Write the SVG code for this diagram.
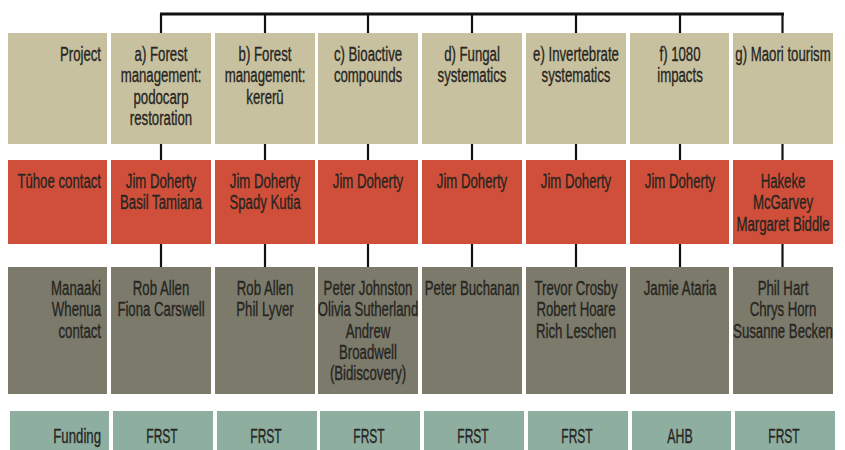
<svg xmlns="http://www.w3.org/2000/svg" width="845" height="450" viewBox="0 0 845 450">
<style>
.proj{fill:#c8c19f}
.tuhoe{fill:#d04f3b}
.mw{fill:#7b7a6b}
.fund{fill:#8eae9f}
text{font-family:"Liberation Sans",Arial,sans-serif;font-size:20px;fill:#26251f;stroke:#26251f;stroke-width:0.35}
.c{text-anchor:middle}
.r{text-anchor:end}
.conn line{stroke:#111;stroke-width:2.2}
</style>
<rect width="845" height="450" fill="#ffffff"/>
<g class="conn" id="connectors">
<line x1="160" y1="14" x2="784" y2="14" style="stroke-width:3"/>
<line x1="161" y1="14" x2="161" y2="33"/>
<line x1="265" y1="14" x2="265" y2="33"/>
<line x1="368" y1="14" x2="368" y2="33"/>
<line x1="472" y1="14" x2="472" y2="33"/>
<line x1="576" y1="14" x2="576" y2="33"/>
<line x1="680" y1="14" x2="680" y2="33"/>
<line x1="782.5" y1="14" x2="782.5" y2="33"/>
<line x1="161" y1="144" x2="161" y2="160"/>
<line x1="265" y1="144" x2="265" y2="160"/>
<line x1="368" y1="144" x2="368" y2="160"/>
<line x1="472" y1="144" x2="472" y2="160"/>
<line x1="576" y1="144" x2="576" y2="160"/>
<line x1="680" y1="144" x2="680" y2="160"/>
<line x1="782.5" y1="144" x2="782.5" y2="160"/>
<line x1="161" y1="244" x2="161" y2="267"/>
<line x1="265" y1="244" x2="265" y2="267"/>
<line x1="368" y1="244" x2="368" y2="267"/>
<line x1="472" y1="244" x2="472" y2="267"/>
<line x1="576" y1="244" x2="576" y2="267"/>
<line x1="680" y1="244" x2="680" y2="267"/>
<line x1="782.5" y1="244" x2="782.5" y2="267"/>
</g>
<!-- Project row -->
<g id="project-label"><rect class="proj" x="8" y="33" width="99" height="111"/><text class="r" transform="translate(101,61) scale(0.66,1)">Project</text></g>
<g id="project-a"><rect class="proj" x="111" y="33" width="100" height="111"/><text class="c" transform="translate(161,61) scale(0.66,1)"><tspan x="0">a) Forest</tspan><tspan x="0" dy="21.3">management:</tspan><tspan x="0" dy="21.3">podocarp</tspan><tspan x="0" dy="21.3">restoration</tspan></text></g>
<g id="project-b"><rect class="proj" x="215" y="33" width="100" height="111"/><text class="c" transform="translate(265,61) scale(0.66,1)"><tspan x="0">b) Forest</tspan><tspan x="0" dy="21.3">management:</tspan><tspan x="0" dy="21.3">kererū</tspan></text></g>
<g id="project-c"><rect class="proj" x="318" y="33" width="100" height="111"/><text class="c" transform="translate(368,61) scale(0.66,1)"><tspan x="0">c) Bioactive</tspan><tspan x="0" dy="21.3">compounds</tspan></text></g>
<g id="project-d"><rect class="proj" x="422" y="33" width="100" height="111"/><text class="c" transform="translate(472,61) scale(0.66,1)"><tspan x="0">d) Fungal</tspan><tspan x="0" dy="21.3">systematics</tspan></text></g>
<g id="project-e"><rect class="proj" x="526" y="33" width="100" height="111"/><text class="c" transform="translate(576,61) scale(0.66,1)"><tspan x="0">e) Invertebrate</tspan><tspan x="0" dy="21.3">systematics</tspan></text></g>
<g id="project-f"><rect class="proj" x="630" y="33" width="99" height="111"/><text class="c" transform="translate(680,61) scale(0.66,1)"><tspan x="0">f) 1080</tspan><tspan x="0" dy="21.3">impacts</tspan></text></g>
<g id="project-g"><rect class="proj" x="733" y="33" width="100" height="111"/><text class="c" transform="translate(783,61) scale(0.66,1)">g) Maori tourism</text></g>
<!-- Tuhoe row -->
<g id="tuhoe-label"><rect class="tuhoe" x="8" y="160" width="99" height="84"/><text class="r" transform="translate(101,188) scale(0.66,1)">Tūhoe contact</text></g>
<g id="tuhoe-a"><rect class="tuhoe" x="111" y="160" width="100" height="84"/><text class="c" transform="translate(161,188) scale(0.66,1)"><tspan x="0">Jim Doherty</tspan><tspan x="0" dy="21.3">Basil Tamiana</tspan></text></g>
<g id="tuhoe-b"><rect class="tuhoe" x="215" y="160" width="100" height="84"/><text class="c" transform="translate(265,188) scale(0.66,1)"><tspan x="0">Jim Doherty</tspan><tspan x="0" dy="21.3">Spady Kutia</tspan></text></g>
<g id="tuhoe-c"><rect class="tuhoe" x="318" y="160" width="100" height="84"/><text class="c" transform="translate(368,188) scale(0.66,1)">Jim Doherty</text></g>
<g id="tuhoe-d"><rect class="tuhoe" x="422" y="160" width="100" height="84"/><text class="c" transform="translate(472,188) scale(0.66,1)">Jim Doherty</text></g>
<g id="tuhoe-e"><rect class="tuhoe" x="526" y="160" width="100" height="84"/><text class="c" transform="translate(576,188) scale(0.66,1)">Jim Doherty</text></g>
<g id="tuhoe-f"><rect class="tuhoe" x="630" y="160" width="99" height="84"/><text class="c" transform="translate(680,188) scale(0.66,1)">Jim Doherty</text></g>
<g id="tuhoe-g"><rect class="tuhoe" x="733" y="160" width="100" height="84"/><text class="c" transform="translate(783,188) scale(0.66,1)"><tspan x="0">Hakeke</tspan><tspan x="0" dy="21.3">McGarvey</tspan><tspan x="0" dy="21.3">Margaret Biddle</tspan></text></g>
<!-- Manaaki Whenua row -->
<g id="mw-label"><rect class="mw" x="8" y="267" width="99" height="127"/><text class="r" transform="translate(101,295) scale(0.66,1)"><tspan x="0">Manaaki</tspan><tspan x="0" dy="21.3">Whenua</tspan><tspan x="0" dy="21.3">contact</tspan></text></g>
<g id="mw-a"><rect class="mw" x="111" y="267" width="100" height="127"/><text class="c" transform="translate(161,295) scale(0.66,1)"><tspan x="0">Rob Allen</tspan><tspan x="0" dy="21.3">Fiona Carswell</tspan></text></g>
<g id="mw-b"><rect class="mw" x="215" y="267" width="100" height="127"/><text class="c" transform="translate(265,295) scale(0.66,1)"><tspan x="0">Rob Allen</tspan><tspan x="0" dy="21.3">Phil Lyver</tspan></text></g>
<g id="mw-c"><rect class="mw" x="318" y="267" width="100" height="127"/><text class="c" transform="translate(368,295) scale(0.66,1)"><tspan x="0">Peter Johnston</tspan><tspan x="0" dy="21.3">Olivia Sutherland</tspan><tspan x="0" dy="21.3">Andrew</tspan><tspan x="0" dy="21.3">Broadwell</tspan><tspan x="0" dy="21.3">(Bidiscovery)</tspan></text></g>
<g id="mw-d"><rect class="mw" x="422" y="267" width="100" height="127"/><text class="c" transform="translate(472,295) scale(0.66,1)">Peter Buchanan</text></g>
<g id="mw-e"><rect class="mw" x="526" y="267" width="100" height="127"/><text class="c" transform="translate(576,295) scale(0.66,1)"><tspan x="0">Trevor Crosby</tspan><tspan x="0" dy="21.3">Robert Hoare</tspan><tspan x="0" dy="21.3">Rich Leschen</tspan></text></g>
<g id="mw-f"><rect class="mw" x="630" y="267" width="99" height="127"/><text class="c" transform="translate(680,295) scale(0.66,1)">Jamie Ataria</text></g>
<g id="mw-g"><rect class="mw" x="733" y="267" width="100" height="127"/><text class="c" transform="translate(783,295) scale(0.66,1)"><tspan x="0">Phil Hart</tspan><tspan x="0" dy="21.3">Chrys Horn</tspan><tspan x="0" dy="21.3">Susanne Becken</tspan></text></g>
<!-- Funding row -->
<g id="fund-label"><rect class="fund" x="10" y="411" width="99" height="39"/><text class="r" transform="translate(101,443) scale(0.66,1)">Funding</text></g>
<g id="fund-a"><rect class="fund" x="113" y="411" width="100" height="39"/><text class="c" transform="translate(162,443) scale(0.6,1)">FRST</text></g>
<g id="fund-b"><rect class="fund" x="217" y="411" width="100" height="39"/><text class="c" transform="translate(266,443) scale(0.6,1)">FRST</text></g>
<g id="fund-c"><rect class="fund" x="320" y="411" width="100" height="39"/><text class="c" transform="translate(369,443) scale(0.6,1)">FRST</text></g>
<g id="fund-d"><rect class="fund" x="424" y="411" width="100" height="39"/><text class="c" transform="translate(473,443) scale(0.6,1)">FRST</text></g>
<g id="fund-e"><rect class="fund" x="528" y="411" width="100" height="39"/><text class="c" transform="translate(577,443) scale(0.6,1)">FRST</text></g>
<g id="fund-f"><rect class="fund" x="632" y="411" width="99" height="39"/><text class="c" transform="translate(680,443) scale(0.62,1)">AHB</text></g>
<g id="fund-g"><rect class="fund" x="735" y="411" width="100" height="39"/><text class="c" transform="translate(784,443) scale(0.6,1)">FRST</text></g>
</svg>
